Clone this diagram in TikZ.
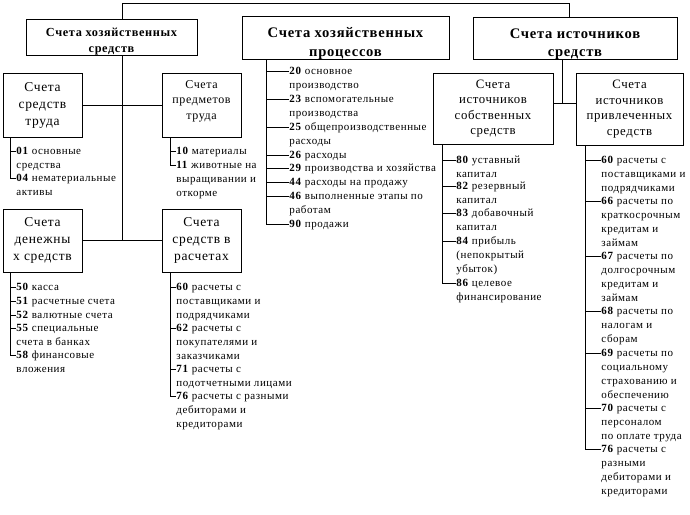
\documentclass[tikz,border=0pt]{standalone}
\usepackage{fontspec}
\setmainfont{Liberation Serif}[LetterSpace=5]
\begin{document}
\newcommand\lst[5]{%
  \node[itm] (#1) at (#3,#4+3.6) {\begin{tabular}[t]{@{}l@{}}#5\end{tabular}};
  \draw ([yshift=3.6pt]#1.base west) coordinate (#1c) -- (#1c -| #2);}
\begin{tikzpicture}[x=1pt,y=-1pt,line width=0.9pt,
  box/.style={draw, align=center, inner sep=0pt, outer sep=0pt},
  big/.style={font=\bfseries\fontsize{14.6}{18.5}\selectfont},
  mid/.style={font=\fontsize{13.5}{17}\selectfont},
  sml/.style={font=\fontsize{12}{15.5}\selectfont},
  smb/.style={font=\fontsize{12.8}{15.5}\selectfont},
  itm/.style={anchor=base west, inner sep=0pt, font=\fontsize{11}{13.8}\selectfont}]
\useasboundingbox (0,0) rectangle (690,514);
% top level boxes
\node[box, minimum width=171, minimum height=36, font=\bfseries\fontsize{12.3}{16}\selectfont] (B1) at (111.5,37) {\rule{0pt}{17pt}Счета хозяйственных\\средств};
\node[box, big, minimum width=207, minimum height=38] (B2) at (345.5,38) {\rule{0pt}{21pt}Счета хозяйственных\\процессов};
\node[box, big, minimum width=204, minimum height=39] (B3) at (575,38.5) {\rule{0pt}{21pt}Счета источников\\средств};
\coordinate (t1) at (122,3);
\coordinate (t3) at (569,3);
\draw (B1.north -| t1) -- (t1) -- (t3) -- (B3.north -| t3);
% second level under B1
\node[box, mid, minimum width=79, minimum height=64] (Ba) at (42.5,105) {Счета\\средств\\труда};
\node[box, sml, minimum width=79, minimum height=64] (Bb) at (201.5,105) {Счета\\предметов\\труда\rule[-10.5pt]{0pt}{0pt}};
\node[box, mid, minimum width=79, minimum height=63] (Bc) at (42.5,240.5) {Счета\\денежны\\х средств};
\node[box, mid, minimum width=79, minimum height=63] (Bd) at (201.5,240.5) {Счета\\средств в\\расчетах};
\coordinate (k1) at (122,0);
\draw (B1.south -| k1) -- (Bc.east -| k1);
\draw (Ba.east) -- (Bb.west);
\draw (Bc.east) -- (Bd.west);
% second level under B3
\node[box, smb, minimum width=120, minimum height=71] (B4) at (493,108.5) {Счета\\источников\\собственных\\средств};
\node[box, smb, minimum width=107, minimum height=72] (B5) at (629.5,109) {Счета\\источников\\привлеченных\\средств};
\coordinate (k3) at (562,103);
\draw (B3.south -| k3) -- (k3);
\draw (B4.east |- k3) -- (B5.west |- k3);
% trunks
\coordinate (tA) at (10,0);
\coordinate (tB) at (170,0);
\coordinate (tC) at (266,0);
\coordinate (tD) at (442,0);
\coordinate (tE) at (585,0);
% list a
\lst{a1}{tA}{16}{151}{\textbf{01} основные\\средства}
\lst{a2}{tA}{16}{178}{\textbf{04} нематериальные\\активы}
\draw (Ba.south -| tA) -- (a2c -| tA);
% list b
\lst{b1}{tB}{176}{151}{\textbf{10} материалы}
\lst{b2}{tB}{176}{165}{\textbf{11} животные на\\выращивании и\\откорме}
\draw (Bb.south -| tB) -- (b2c -| tB);
% list c
\lst{c1}{tA}{16}{287}{\textbf{50} касса}
\lst{c2}{tA}{16}{301}{\textbf{51} расчетные счета}
\lst{c3}{tA}{16}{315}{\textbf{52} валютные счета}
\lst{c4}{tA}{16}{328}{\textbf{55} специальные\\счета в банках}
\lst{c5}{tA}{16}{355}{\textbf{58} финансовые\\вложения}
\draw (Bc.south -| tA) -- (c5c -| tA);
% list d
\lst{d1}{tB}{176}{287}{\textbf{60} расчеты с\\поставщиками и\\подрядчиками}
\lst{d2}{tB}{176}{328}{\textbf{62} расчеты с\\покупателями и\\заказчиками}
\lst{d3}{tB}{176}{369}{\textbf{71} расчеты с\\подотчетными лицами}
\lst{d4}{tB}{176}{396}{\textbf{76} расчеты с разными\\дебиторами и\\кредиторами}
\draw (Bd.south -| tB) -- (d4c -| tB);
% list e
\lst{e1}{tC}{289}{71}{\textbf{20} основное\\производство}
\lst{e2}{tC}{289}{99}{\textbf{23} вспомогательные\\производства}
\lst{e3}{tC}{289}{127}{\textbf{25} общепроизводственные\\расходы}
\lst{e4}{tC}{289}{155}{\textbf{26} расходы}
\lst{e5}{tC}{289}{168}{\textbf{29} производства и хозяйства}
\lst{e6}{tC}{289}{182}{\textbf{44} расходы на продажу}
\lst{e7}{tC}{289}{196}{\textbf{46} выполненные этапы по\\работам}
\lst{e8}{tC}{289}{224}{\textbf{90} продажи}
\draw (B2.south -| tC) -- (e8c -| tC);
% list f
\lst{f1}{tD}{456}{160}{\textbf{80} уставный\\капитал}
\lst{f2}{tD}{456}{186}{\textbf{82} резервный\\капитал}
\lst{f3}{tD}{456}{213}{\textbf{83} добавочный\\капитал}
\lst{f4}{tD}{456}{241}{\textbf{84} прибыль\\(непокрытый\\убыток)}
\lst{f5}{tD}{456}{283}{\textbf{86} целевое\\финансирование}
\draw (B4.south -| tD) -- (f5c -| tD);
% list g
\lst{g1}{tE}{601}{160}{\textbf{60} расчеты с\\поставщиками и\\подрядчиками}
\lst{g2}{tE}{601}{201}{\textbf{66} расчеты по\\краткосрочным\\кредитам и\\займам}
\lst{g3}{tE}{601}{256}{\textbf{67} расчеты по\\долгосрочным\\кредитам и\\займам}
\lst{g4}{tE}{601}{311}{\textbf{68} расчеты по\\налогам и\\сборам}
\lst{g5}{tE}{601}{353}{\textbf{69} расчеты по\\социальному\\страхованию и\\обеспечению}
\lst{g6}{tE}{601}{408}{\textbf{70} расчеты с\\персоналом\\по оплате труда}
\lst{g7}{tE}{601}{449}{\textbf{76} расчеты с\\разными\\дебиторами и\\кредиторами}
\draw (B5.south -| tE) -- (g7c -| tE);
\end{tikzpicture}
\end{document}
